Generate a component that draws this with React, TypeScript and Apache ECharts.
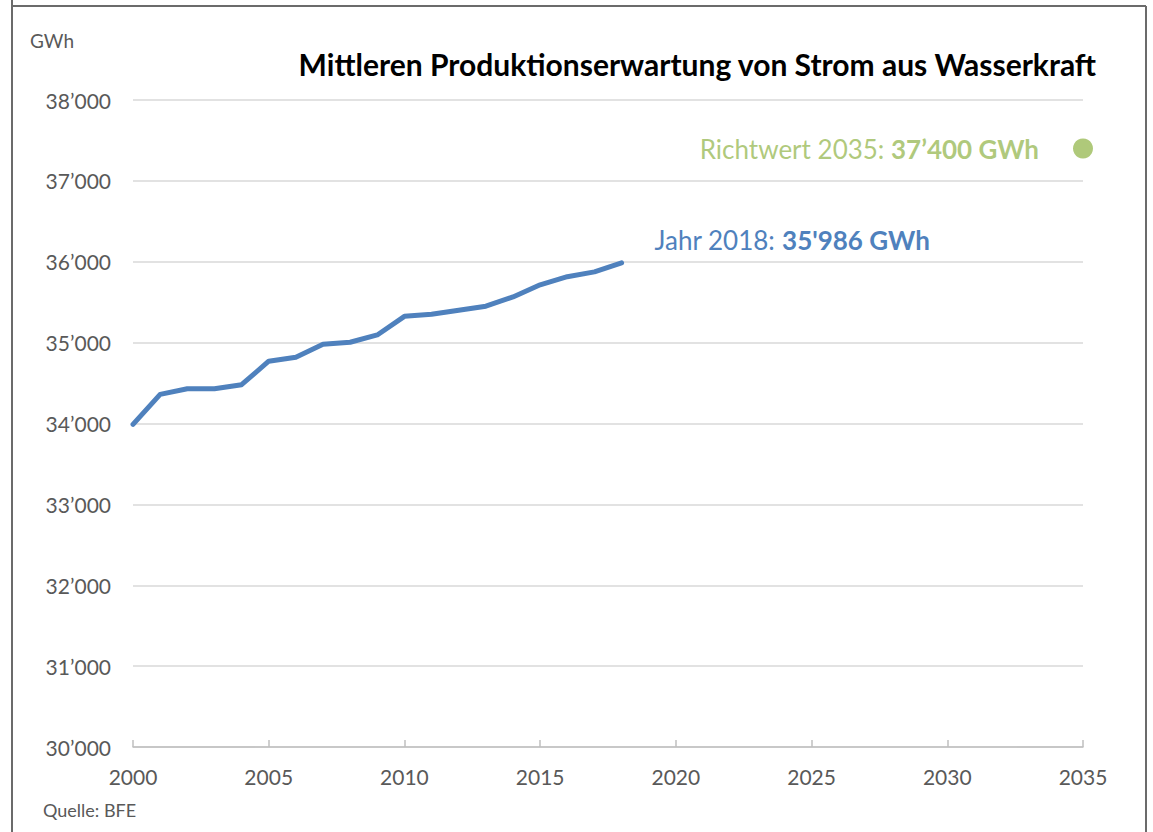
import React, { useEffect, useRef } from "react";
import * as echarts from "echarts";

const years = [2000, 2001, 2002, 2003, 2004, 2005, 2006, 2007, 2008, 2009, 2010, 2011, 2012, 2013, 2014, 2015, 2016, 2017, 2018];
const production = [33990, 34360, 34430, 34430, 34480, 34770, 34820, 34980, 35005, 35095, 35325, 35350, 35400, 35450, 35565, 35715, 35815, 35875, 35986];
const targetYear = 2035;
const targetValue = 37400;
const yTicks = [30000, 31000, 32000, 33000, 34000, 35000, 36000, 37000, 38000];
const xTicks = [2000, 2005, 2010, 2015, 2020, 2025, 2030, 2035];

const FONT = "Lato, 'Open Sans', sans-serif";
const fmt = (v: number) => {
  const s = String(Math.round(v));
  return s.length > 3 ? s.slice(0, s.length - 3) + "\u2019" + s.slice(-3) : s;
};

export default function App() {
  const ref = useRef<HTMLDivElement>(null);
  useEffect(() => {
    const chart = echarts.init(ref.current!, null, { renderer: "svg" });
    const lineData = years.map((y, i) => [y, production[i]]);
    chart.setOption({
      animation: false,
      backgroundColor: "#ffffff",
      textStyle: { fontFamily: FONT },
      grid: { left: 133, right: 70, top: 100, bottom: 85 },
      title: {
        text: "Mittleren Produktionserwartung von Strom aus Wasserkraft",
        right: 51,
        top: 44,
        textStyle: { fontFamily: FONT, fontSize: 30, fontWeight: "bold", color: "#000000" },
      },
      graphic: [
        { type: "line", shape: { x1: 12, y1: 0, x2: 12, y2: 832 }, style: { stroke: "#6b6b6b", lineWidth: 2 } },
        { type: "line", shape: { x1: 12, y1: 6, x2: 1146, y2: 6 }, style: { stroke: "#6b6b6b", lineWidth: 2 } },
        { type: "line", shape: { x1: 1146, y1: 6, x2: 1146, y2: 832 }, style: { stroke: "#6b6b6b", lineWidth: 2 } },
        { type: "text", left: 30, top: 31, style: { text: "GWh", font: `19px ${FONT}`, fill: "#595959" } },
        { type: "text", left: 43, top: 801, style: { text: "Quelle: BFE", font: `18px ${FONT}`, fill: "#595959" } },
      ],
      xAxis: {
        type: "value",
        min: xTicks[0],
        max: xTicks[xTicks.length - 1],
        interval: 5,
        axisLine: { show: true, lineStyle: { color: "#bfbfbf", width: 1.5 } },
        axisTick: { show: true, inside: true, length: 7, lineStyle: { color: "#bfbfbf", width: 1.5 } },
        splitLine: { show: false },
        axisLabel: { color: "#595959", fontSize: 21, fontFamily: FONT, margin: 19, formatter: (v: number) => String(v) },
      },
      yAxis: {
        type: "value",
        min: yTicks[0],
        max: yTicks[yTicks.length - 1],
        interval: 1000,
        axisLine: { show: false },
        axisTick: { show: false },
        splitLine: { lineStyle: { color: "#d9d9d9", width: 1.5 } },
        axisLabel: { color: "#595959", fontSize: 21, fontFamily: FONT, margin: 22, formatter: (v: number) => fmt(v) },
      },
      series: [
        {
          type: "line",
          data: lineData,
          showSymbol: false,
          symbol: "none",
          lineStyle: { color: "#4f81bd", width: 5, cap: "round", join: "round" },
          endLabel: {
            show: true,
            offset: [28, -23],
            distance: 5,
            formatter: () => `{a|Jahr ${years[years.length - 1]}: }{b|35'986 GWh}`,
            rich: {
              a: { fontSize: 26, color: "#4f81bd", fontFamily: FONT },
              b: { fontSize: 26, color: "#4f81bd", fontWeight: "bold", fontFamily: FONT },
            },
          },
          z: 3,
        },
        {
          type: "scatter",
          data: [[targetYear, targetValue]],
          symbolSize: 20,
          itemStyle: { color: "#9bbb59" },
          label: {
            show: true,
            position: "left",
            distance: 34,
            formatter: () => `{a|Richtwert ${targetYear}: }{b|${fmt(targetValue)} GWh}`,
            rich: {
              a: { fontSize: 26, color: "#9bbb59", fontFamily: FONT },
              b: { fontSize: 26, color: "#9bbb59", fontWeight: "bold", fontFamily: FONT },
            },
          },
          z: 4,
        },
      ],
    });
    return () => chart.dispose();
  }, []);
  return <div ref={ref} style={{ position: "absolute", left: 0, top: 0, width: 1153, height: 832 }} />;
}
